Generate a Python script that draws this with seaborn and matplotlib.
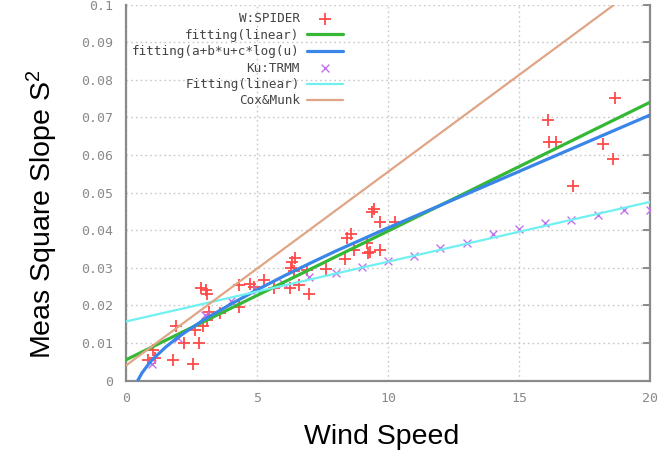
import numpy as np
import pandas as pd
import matplotlib
matplotlib.use("Agg")
import matplotlib.pyplot as plt
import seaborn as sns

# ---- data ----
spider_u = [0.85, 1.1, 1.04, 1.8, 1.9, 2.2, 2.55, 2.8, 2.65, 2.95, 3.1, 2.85, 3.05, 3.1, 3.15,
            3.6, 4.3, 4.3, 4.75, 4.9, 5.25, 5.65, 6.25, 6.3, 6.35, 6.4, 6.45, 6.6, 6.9,
            7.0, 7.65, 8.35, 8.45, 8.6, 8.7, 9.2, 9.25, 9.3, 9.4, 9.45, 9.7, 9.7, 10.25,
            16.1, 16.15, 16.4, 17.05, 18.2, 18.6, 18.65]
spider_s2 = [0.0054, 0.0059, 0.0081, 0.0055, 0.0144, 0.0099, 0.0045, 0.0099, 0.0134, 0.0145,
             0.0162, 0.0245, 0.0240, 0.0230, 0.0183, 0.0180, 0.0196, 0.0255, 0.0256, 0.0250,
             0.0267, 0.0245, 0.0245, 0.0300, 0.0315, 0.0292, 0.0325, 0.0255, 0.0293,
             0.0231, 0.0297, 0.0322, 0.0380, 0.0390, 0.0346, 0.0366, 0.0338, 0.0342, 0.0448,
             0.0455, 0.0421, 0.0346, 0.0421, 0.0693, 0.0633, 0.0633, 0.0518, 0.0629, 0.0588,
             0.0751]

lin_u = [0, 20]
lin_s2 = [0.0055, 0.0740]

log_u = [0.45, 0.6, 0.8, 1, 1.5, 2, 3, 4, 5, 6, 7, 8, 10, 12, 14, 16, 18, 20]
log_s2 = [0.0000, 0.0019, 0.0038, 0.0055, 0.0088, 0.0116, 0.0163, 0.0203, 0.0241, 0.0277,
          0.0311, 0.0344, 0.0406, 0.0466, 0.0526, 0.0586, 0.0646, 0.0706]

trmm_u = [1, 2, 3, 4, 5, 6, 7, 8, 9, 10, 11, 12, 13, 14, 15, 16, 17, 18, 19, 20]
trmm_s2 = [0.0044, 0.0114, 0.0175, 0.0212, 0.0240, 0.0258, 0.0275, 0.0287, 0.0302, 0.0318,
           0.0331, 0.0353, 0.0367, 0.0389, 0.0402, 0.0419, 0.0428, 0.0439, 0.0454, 0.0454]

trmm_fit_u = [0, 20]
trmm_fit_s2 = [0.0157, 0.0475]

cm_u = [0, 20]
cm_s2 = [0.004, 0.1070]

x_ticks = [0, 5, 10, 15, 20]
y_ticks = [0, 0.01, 0.02, 0.03, 0.04, 0.05, 0.06, 0.07, 0.08, 0.09, 0.1]
y_tick_labels = ["0", "0.01", "0.02", "0.03", "0.04", "0.05", "0.06", "0.07", "0.08", "0.09", "0.1"]

# ---- style ----
sns.set_theme(style="white")
plt.rcParams["font.family"] = ["Liberation Sans", "DejaVu Sans"]
plt.rcParams["mathtext.default"] = "regular"

fig = plt.figure(figsize=(6.66, 4.55), dpi=100)
ax = fig.add_axes([126 / 666, 1 - 380.5 / 455, 524 / 666, 376 / 455])

df_sp = pd.DataFrame({"u": spider_u, "s2": spider_s2})
df_lin = pd.DataFrame({"u": lin_u, "s2": lin_s2})
df_log = pd.DataFrame({"u": log_u, "s2": log_s2})
df_tr = pd.DataFrame({"u": trmm_u, "s2": trmm_s2})
df_trf = pd.DataFrame({"u": trmm_fit_u, "s2": trmm_fit_s2})
df_cm = pd.DataFrame({"u": cm_u, "s2": cm_s2})

sns.scatterplot(data=df_sp, x="u", y="s2", marker="+", s=85, color="#ff4a4a",
                linewidth=1.3, ax=ax, label="W:SPIDER", zorder=3)
sns.lineplot(data=df_lin, x="u", y="s2", color="#35b835", linewidth=2.3, ax=ax,
             label="fitting(linear)", zorder=4)
sns.lineplot(data=df_log, x="u", y="s2", color="#3a85e8", linewidth=2.3, ax=ax,
             label="fitting(a+b*u+c*log(u)", zorder=4)
sns.scatterplot(data=df_tr, x="u", y="s2", marker="x", s=32, color="#c070f0",
                linewidth=1.0, ax=ax, label="Ku:TRMM", zorder=3)
sns.lineplot(data=df_trf, x="u", y="s2", color="#70f0f0", linewidth=1.6, ax=ax,
             label="Fitting(linear)", zorder=4)
sns.lineplot(data=df_cm, x="u", y="s2", color="#e0a585", linewidth=1.6, ax=ax,
             label="Cox&Munk", zorder=4)

ax.set_xlim(0, 20)
ax.set_ylim(0, 0.1)
ax.set_xticks(x_ticks)
ax.set_xticklabels([str(t) for t in x_ticks])
ax.set_yticks(y_ticks)
ax.set_yticklabels(y_tick_labels)

ax.grid(True, color="#c8c8c8", linestyle=(0, (1.2, 2.2)), linewidth=1.0)
ax.set_axisbelow(True)

for side in ["left", "bottom", "right"]:
    ax.spines[side].set_visible(True)
    ax.spines[side].set_color("#8a8a8a")
    ax.spines[side].set_linewidth(1.6)
ax.spines["top"].set_visible(False)

ax.tick_params(axis="both", which="both", direction="in", length=5, width=1.2,
               color="#7a7a7a", top=False, right=True, labelcolor="#8a8a8a")
ax.tick_params(axis="y", pad=9)
ax.tick_params(axis="x", pad=8)
for lab in ax.get_xticklabels() + ax.get_yticklabels():
    lab.set_fontfamily("DejaVu Sans Mono")
    lab.set_fontsize(9.5)

ax.set_xlabel("Wind Speed", fontsize=20.5, color="black", va="center")
ax.xaxis.set_label_coords((382 - 126) / 524, (380.5 - 437) / 376)
ax.set_ylabel("Meas Square Slope S$^{2}$", fontsize=20.5, color="black", va="center")
ax.yaxis.set_label_coords((42 - 126) / 524, (380.5 - 214) / 376)

leg = ax.legend(loc="upper right", bbox_to_anchor=(349 / 666, 1 - 6 / 455),
                bbox_transform=fig.transFigure, frameon=False, markerfirst=False,
                handlelength=2.8, handletextpad=0.6, labelspacing=0.27, borderpad=0,
                prop={"family": "DejaVu Sans Mono", "size": 9.1})
for t in leg.get_texts():
    t.set_color("#444444")

fig.savefig("out.png", dpi=100)
